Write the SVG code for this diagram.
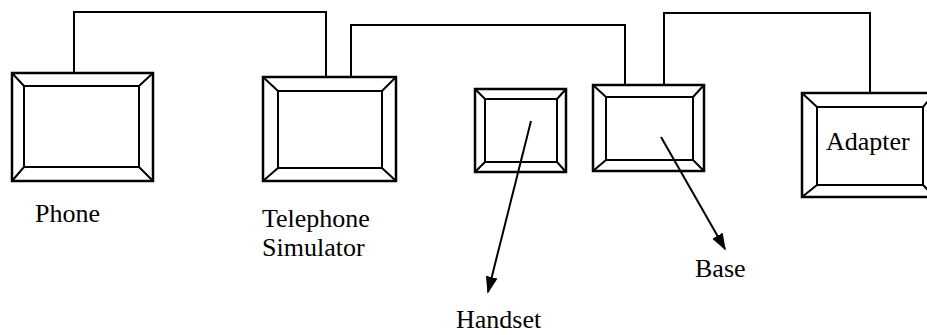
<svg xmlns="http://www.w3.org/2000/svg" width="927" height="335" viewBox="0 0 927 335">
  <defs>
    <style>
      .frame { fill: #fff; stroke: #000; stroke-width: 2.5; }
      .inner { fill: #fff; stroke: #000; stroke-width: 2; }
      .bevel { stroke: #000; stroke-width: 2; fill: none; }
      .wire { fill: none; stroke: #000; stroke-width: 2; }
      .label { font-family: "Liberation Serif", "Times New Roman", serif; font-size: 26px; fill: #000; }
    </style>
    <marker id="arrow" viewBox="0 0 10 10" refX="9" refY="5" markerWidth="17" markerHeight="17" markerUnits="userSpaceOnUse" orient="auto">
      <path d="M0,1.5 L10,5 L0,8.5 Z" fill="#000"/>
    </marker>
  </defs>

  <rect width="927" height="335" fill="#fff"/>

  <!-- wiring between the units -->
  <g id="connectors">
    <polyline class="wire" points="74,73 74,12 326,12 326,77"/>
    <polyline class="wire" points="351,78 351,25 625,25 625,85"/>
    <polyline class="wire" points="664,85 664,13 870,13 870,93"/>
  </g>

  <g id="phone">
    <rect class="frame" x="12" y="73" width="141" height="108"/>
    <rect class="inner" x="24" y="86" width="115" height="81"/>
    <path class="bevel" d="M12,73 L24,86 M153,73 L139,86 M12,181 L24,167 M153,181 L139,167"/>
    <text class="label" x="35" y="222">Phone</text>
  </g>

  <g id="telephone-simulator">
    <rect class="frame" x="263" y="77" width="133" height="104"/>
    <rect class="inner" x="278" y="91" width="104" height="77"/>
    <path class="bevel" d="M263,77 L278,91 M396,77 L382,91 M263,181 L278,168 M396,181 L382,168"/>
    <text class="label" x="262" y="227">Telephone</text>
    <text class="label" x="262" y="256">Simulator</text>
  </g>

  <g id="handset">
    <rect class="frame" x="475" y="89" width="91" height="83"/>
    <rect class="inner" x="485" y="99" width="72" height="63"/>
    <path class="bevel" d="M475,89 L485,99 M566,89 L557,99 M475,172 L485,162 M566,172 L557,162"/>
    <line class="wire" x1="531" y1="121" x2="488" y2="292" marker-end="url(#arrow)"/>
    <text class="label" x="456" y="328">Handset</text>
  </g>

  <g id="base">
    <rect class="frame" x="593" y="85" width="111" height="86"/>
    <rect class="inner" x="606" y="97" width="87" height="63"/>
    <path class="bevel" d="M593,85 L606,97 M704,85 L693,97 M593,171 L606,160 M704,171 L693,160"/>
    <line class="wire" x1="661" y1="137" x2="725" y2="249" marker-end="url(#arrow)"/>
    <text class="label" x="695" y="277">Base</text>
  </g>

  <g id="adapter">
    <rect class="frame" x="802" y="93" width="133" height="104"/>
    <rect class="inner" x="817" y="107" width="106" height="78"/>
    <path class="bevel" d="M802,93 L817,107 M935,93 L923,107 M802,197 L817,185 M935,197 L923,185"/>
    <text class="label" x="826" y="150">Adapter</text>
  </g>
</svg>
